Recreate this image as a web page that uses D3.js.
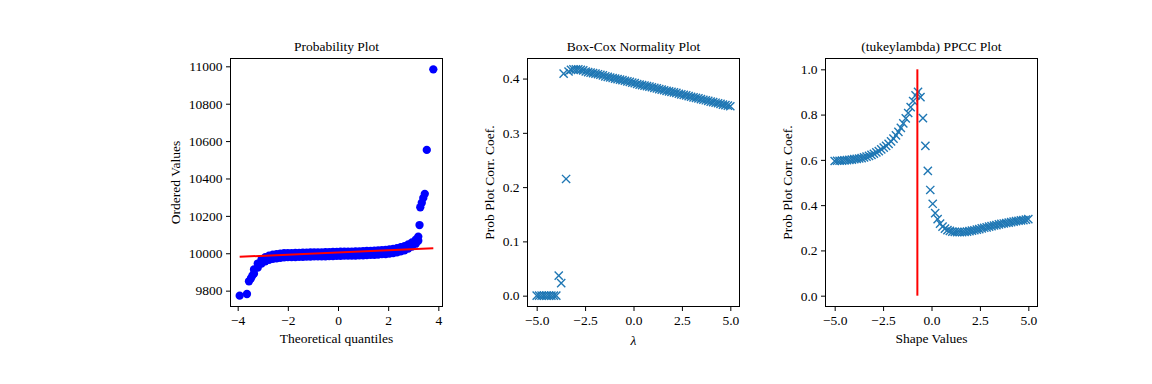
<!DOCTYPE html>
<html><head><meta charset="utf-8">
<script src="https://cdn.jsdelivr.net/npm/d3@7"></script>
<style>
body{margin:0;background:#fff}
svg{display:block}
text{font-family:"Liberation Serif","Times New Roman",serif;fill:#000}
</style>
</head><body>
<svg id="c" width="1152" height="384"></svg>
<script>
// ---------- Panel 1: Probability Plot ----------
const probTailQ = [-3.92, -3.63, -3.55, -3.47, -3.41, 3.25, 3.28, 3.34, 3.40, 3.46, 3.54, 3.80];
const probTailY = [9773, 9782, 9850, 9866, 9882, 10151, 10246, 10270, 10296, 10318, 10553, 10984];
const probBandQ = [-3.35,-3.20,-3.05,-2.90,-2.75,-2.60,-2.45,-2.30,-2.15,-2.00,-1.85,-1.70,-1.55,-1.40,-1.25,-1.10,-0.95,-0.80,-0.65,-0.50,-0.35,-0.20,-0.05,0.10,0.25,0.40,0.55,0.70,0.85,1.00,1.15,1.30,1.45,1.60,1.75,1.90,2.05,2.20,2.35,2.50,2.65,2.80,2.95,3.10,3.20];
const probBandLo = [9891,9923,9945,9957,9965,9970,9973,9976,9978,9979,9980,9980,9981,9981,9982,9982,9983,9983,9984,9984,9985,9985,9986,9986,9987,9987,9988,9988,9989,9989,9990,9991,9992,9993,9995,9996,9998,10001,10005,10010,10016,10025,10036,10051,10067];
const probBandHi = [9913,9945,9967,9979,9987,9992,9995,9998,10000,10001,10001,10002,10002,10003,10003,10004,10004,10005,10005,10006,10006,10007,10007,10008,10008,10009,10009,10010,10010,10011,10012,10013,10014,10015,10016,10018,10020,10023,10027,10032,10038,10047,10058,10073,10089];
const fitQ = [-3.92, 3.80];
const fitY = [9981, 10027];
const probXTicks = [-4, -2, 0, 2, 4];
const probYTicks = [9800, 10000, 10200, 10400, 10600, 10800, 11000];

// ---------- shared shape grid (lambda values) ----------
const shapeGrid = [-5.000,-4.873,-4.747,-4.620,-4.494,-4.367,-4.241,-4.114,-3.987,-3.861,-3.734,-3.608,-3.481,-3.354,-3.228,-3.101,-2.975,-2.848,-2.722,-2.595,-2.468,-2.342,-2.215,-2.089,-1.962,-1.835,-1.709,-1.582,-1.456,-1.329,-1.203,-1.076,-0.949,-0.823,-0.696,-0.570,-0.443,-0.316,-0.190,-0.063,0.063,0.190,0.316,0.443,0.570,0.696,0.823,0.949,1.076,1.203,1.329,1.456,1.582,1.709,1.835,1.962,2.089,2.215,2.342,2.468,2.595,2.722,2.848,2.975,3.101,3.228,3.354,3.481,3.608,3.734,3.861,3.987,4.114,4.241,4.367,4.494,4.620,4.747,4.873,5.000];

// ---------- Panel 2: Box-Cox Normality Plot ----------
const boxcoxValues = [0,0,0,0,0,0,0,0,0,0.037,0.023,0.409,0.215,0.413,0.416,0.417,0.417,0.417,0.416,0.415,0.413,0.412,0.411,0.410,0.409,0.408,0.407,0.406,0.404,0.403,0.402,0.401,0.400,0.399,0.398,0.397,0.396,0.395,0.394,0.3925,0.3915,0.390,0.389,0.388,0.387,0.386,0.385,0.384,0.383,0.382,0.3805,0.3795,0.3785,0.3775,0.3765,0.3755,0.3745,0.3735,0.372,0.371,0.370,0.369,0.3675,0.3665,0.3655,0.3645,0.3635,0.362,0.361,0.360,0.359,0.3575,0.3565,0.3555,0.3545,0.3535,0.352,0.351,0.350,0.349];
const bcYTicks = [0.0, 0.1, 0.2, 0.3, 0.4];

// ---------- Panel 3: (tukeylambda) PPCC Plot ----------
const ppccValues = [0.595,0.596,0.596,0.597,0.598,0.599,0.600,0.601,0.603,0.604,0.606,0.608,0.611,0.614,0.618,0.622,0.627,0.633,0.639,0.646,0.654,0.662,0.671,0.682,0.694,0.708,0.724,0.741,0.761,0.783,0.807,0.833,0.860,0.885,0.900,0.877,0.784,0.662,0.551,0.467,0.406,0.365,0.338,0.318,0.305,0.296,0.290,0.286,0.283,0.282,0.281,0.281,0.281,0.282,0.283,0.285,0.287,0.289,0.292,0.294,0.297,0.300,0.302,0.305,0.307,0.310,0.312,0.315,0.317,0.319,0.321,0.323,0.325,0.327,0.329,0.331,0.333,0.334,0.336,0.338];
const ppccMaxShape = -0.73;
const ppccLineY = [0, 1];
const ppccYTicks = [0.0, 0.2, 0.4, 0.6, 0.8, 1.0];
const shapeXTicks = [-5.0, -2.5, 0.0, 2.5, 5.0];

// ---------- drawing ----------
const svg = d3.select("#c");
const FS = 13.5;
const TOP = 58, H = 249, W = 213;
const BLUE = "#1f77b4";

function panel(o) {
  const g = svg.append("g");
  const x = d3.scaleLinear().domain(o.xd).range([o.left, o.left + W]);
  const y = d3.scaleLinear().domain(o.yd).range([TOP + H, TOP]);
  const data = g.append("g");
  o.draw(data, x, y);
  // axes
  const ax = g.append("g").attr("transform", `translate(0,${TOP + H})`)
    .call(d3.axisBottom(x).tickValues(o.xt).tickFormat(o.xf).tickSize(4).tickSizeOuter(0).tickPadding(4.4));
  const ay = g.append("g").attr("transform", `translate(${o.left},0)`)
    .call(d3.axisLeft(y).tickValues(o.yt).tickFormat(o.yf).tickSize(4).tickSizeOuter(0).tickPadding(3.5));
  [ax, ay].forEach(a => {
    a.select(".domain").remove();
    a.selectAll("line").attr("stroke", "#000").attr("stroke-width", 1);
    a.selectAll("text").attr("font-size", FS).attr("font-family", '"Liberation Serif",serif').attr("fill", "#000");
  });
  g.append("rect").attr("x", o.left + 0.5).attr("y", TOP + 0.5).attr("width", W - 1).attr("height", H - 1)
    .attr("fill", "none").attr("stroke", "#000").attr("stroke-width", 1);
  const cx = o.left + W / 2;
  g.append("text").attr("x", cx).attr("y", 50.5).attr("text-anchor", "middle").attr("font-size", FS).text(o.title);
  const xl = g.append("text").attr("x", cx).attr("y", o.xlY || 342.5).attr("text-anchor", "middle").attr("font-size", FS).text(o.xlabel);
  if (o.xItalic) xl.attr("font-style", "italic");
  g.append("text").attr("transform", `translate(${o.ylX},${TOP + H / 2}) rotate(-90)`)
    .attr("text-anchor", "middle").attr("font-size", FS).text(o.ylabel);
}

function crosses(sel, xs, ys, x, y) {
  const r = 4.1;
  sel.selectAll("path.m").data(xs.map((v, i) => [v, ys[i]])).join("path")
    .attr("class", "m")
    .attr("d", d => {
      const px = x(d[0]), py = y(d[1]);
      return `M${px - r},${py - r}L${px + r},${py + r}M${px - r},${py + r}L${px + r},${py - r}`;
    })
    .attr("stroke", BLUE).attr("stroke-width", 1.4).attr("fill", "none");
}

const f1 = d3.format("d");
const f2 = d3.format(".1f");

panel({
  left: 230, xd: [-4.306, 4.186], yd: [9712.5, 11044.5],
  xt: probXTicks, yt: probYTicks, xf: f1, yf: f1,
  title: "Probability Plot", xlabel: "Theoretical quantiles", ylabel: "Ordered Values", ylX: 180,
  draw: (g, x, y) => {
    const pts = [];
    probBandQ.forEach((q, i) => { pts.push([q, probBandLo[i]]); pts.push([q, probBandHi[i]]); });
    probTailQ.forEach((q, i) => pts.push([q, probTailY[i]]));
    g.selectAll("circle").data(pts).join("circle")
      .attr("cx", d => x(d[0])).attr("cy", d => y(d[1])).attr("r", 4.15).attr("fill", "#0000ff");
    g.append("path").attr("d", d3.line().x(d => x(d[0])).y(d => y(d[1]))(fitQ.map((q, i) => [q, fitY[i]])))
      .attr("stroke", "#ff0000").attr("stroke-width", 2).attr("fill", "none");
  }
});

panel({
  left: 527, xd: [-5.5, 5.5], yd: [-0.0209, 0.4379],
  xt: shapeXTicks, yt: bcYTicks, xf: f2, yf: f2,
  title: "Box-Cox Normality Plot", xlabel: "λ", xItalic: true, xlY: 345, ylabel: "Prob Plot Corr. Coef.", ylX: 494,
  draw: (g, x, y) => crosses(g, shapeGrid, boxcoxValues, x, y)
});

panel({
  left: 825, xd: [-5.5, 5.5], yd: [-0.05, 1.05],
  xt: shapeXTicks, yt: ppccYTicks, xf: f2, yf: f2,
  title: "(tukeylambda) PPCC Plot", xlabel: "Shape Values", ylabel: "Prob Plot Corr. Coef.", ylX: 792,
  draw: (g, x, y) => {
    crosses(g, shapeGrid, ppccValues, x, y);
    g.append("line").attr("x1", x(ppccMaxShape)).attr("x2", x(ppccMaxShape))
      .attr("y1", y(ppccLineY[0])).attr("y2", y(ppccLineY[1]))
      .attr("stroke", "#ff0000").attr("stroke-width", 2);
  }
});
</script>
</body></html>
